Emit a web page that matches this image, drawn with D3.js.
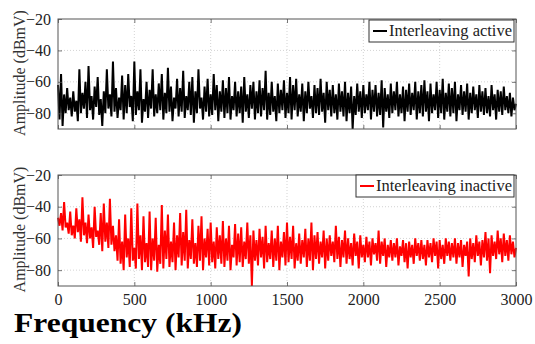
<!DOCTYPE html>
<html><head><meta charset="utf-8">
<script src="https://cdn.jsdelivr.net/npm/d3@7/dist/d3.min.js"></script>
<style>body{margin:0;background:#fff}svg{display:block}
svg text{font-family:"Liberation Serif","Times New Roman",serif;}</style>
</head><body>
<svg id="c" width="535" height="344"></svg>
<script>
const freqStep = 10; // kHz between samples
const xTicks = [0, 500, 1000, 1500, 2000, 2500, 3000];
const yTicks = [-20, -40, -60, -80];
const seriesNames = ["Interleaving active", "Interleaving inactive"];
const activeDb = [
-62,-84,-55,-88,-68,-80,-64,-78,-70,-82,
-66,-79,-72,-85,-52,-80,-67,-77,-60,-83,
-50,-78,-69,-84,-63,-76,-57,-81,-71,-88,
-66,-80,-52,-77,-68,-82,-47,-79,-64,-83,
-70,-78,-56,-84,-62,-80,-55,-76,-69,-85,
-47,-81,-66,-78,-52,-86,-71,-79,-60,-83,
-65,-77,-52,-82,-68,-80,-61,-78,-55,-84,
-67,-80,-51,-79,-63,-85,-70,-77,-58,-82,
-64,-79,-53,-83,-69,-78,-60,-81,-57,-86,
-66,-80,-52,-77,-70,-84,-63,-79,-58,-82,
-68,-81,-55,-78,-62,-85,-66,-79,-59,-83,
-64,-80,-57,-84,-69,-78,-60,-82,-66,-80,
-63,-86,-57,-79,-68,-83,-62,-77,-60,-84,
-66,-80,-59,-82,-64,-78,-53,-84,-67,-81,
-60,-79,-69,-85,-61,-80,-65,-78,-59,-83,
-67,-80,-57,-84,-62,-78,-58,-82,-68,-79,
-61,-85,-66,-80,-60,-77,-69,-83,-62,-80,
-64,-81,-58,-79,-67,-86,-60,-78,-65,-82,
-62,-80,-68,-84,-61,-79,-66,-82,-60,-85,
-67,-80,-63,-90,-69,-81,-61,-79,-66,-83,
-62,-80,-68,-78,-60,-84,-65,-79,-62,-82,
-67,-81,-59,-89,-64,-79,-68,-83,-61,-80,
-66,-78,-60,-82,-68,-80,-63,-85,-65,-79,
-61,-81,-67,-78,-60,-84,-66,-80,-62,-82,
-59,-79,-66,-85,-61,-80,-68,-78,-60,-83,
-65,-80,-58,-84,-67,-79,-61,-82,-64,-80,
-60,-85,-68,-78,-62,-81,-66,-79,-61,-84,
-67,-80,-63,-78,-68,-83,-62,-79,-66,-81,
-64,-80,-69,-82,-62,-78,-68,-84,-65,-79,
-66,-81,-63,-78,-69,-80,-67,-82,-70,-78,-74
];
const inactiveDb = [
-47,-52,-44,-55,-37,-53,-50,-57,-43,-58,
-52,-60,-41,-56,-48,-62,-34,-58,-50,-63,
-45,-60,-53,-66,-40,-59,-55,-64,-44,-68,
-38,-62,-50,-66,-35,-64,-52,-68,-58,-74,
-48,-76,-62,-80,-45,-72,-60,-78,-41,-74,
-66,-79,-38,-73,-58,-80,-46,-75,-63,-78,
-43,-80,-60,-74,-47,-81,-64,-76,-39,-79,
-55,-73,-45,-78,-62,-75,-50,-80,-58,-72,
-44,-77,-56,-74,-42,-79,-61,-73,-48,-76,
-63,-78,-52,-74,-46,-80,-60,-72,-54,-77,
-50,-75,-62,-79,-53,-73,-58,-76,-49,-78,
-60,-74,-52,-80,-64,-72,-51,-77,-57,-75,
-53,-78,-62,-73,-50,-76,-58,-90,-55,-74,
-61,-77,-54,-72,-59,-79,-52,-75,-63,-73,
-55,-78,-60,-74,-52,-80,-62,-72,-56,-77,
-50,-75,-59,-73,-52,-79,-63,-74,-57,-76,
-61,-72,-54,-78,-60,-74,-50,-80,-58,-73,
-56,-76,-62,-72,-55,-79,-60,-74,-58,-71,
-62,-75,-52,-73,-59,-78,-61,-72,-55,-76,
-60,-73,-63,-77,-57,-71,-62,-79,-58,-72,
-64,-75,-59,-72,-62,-77,-60,-70,-63,-74,
-55,-76,-62,-71,-60,-78,-64,-72,-61,-74,
-63,-72,-60,-77,-65,-71,-61,-75,-63,-79,
-62,-72,-64,-76,-60,-71,-63,-74,-61,-73,
-64,-77,-61,-72,-63,-75,-60,-71,-62,-79,
-61,-73,-64,-76,-60,-71,-62,-74,-63,-72,
-60,-76,-63,-72,-61,-78,-64,-71,-62,-84,
-60,-73,-63,-75,-58,-71,-62,-77,-61,-72,
-56,-74,-60,-82,-58,-71,-62,-73,-55,-70,
-60,-75,-57,-71,-61,-74,-58,-70,-62,-72,-66
];

const svg = d3.select("#c");
const font = "Liberation Serif";
const L = 58, R = 516;
const x = d3.scaleLinear().domain([0, 3000]).range([L, R]);

const panels = [
  {data: activeDb, color: "#000", name: seriesNames[0], top: 19, bottom: 129, labels: false,
   leg: {x0: 369, y0: 20, w: 145, h: 22}},
  {data: inactiveDb, color: "#ff0000", name: seriesNames[1], top: 175, bottom: 286, labels: true,
   leg: {x0: 356, y0: 175, w: 158, h: 22}}
];

panels.forEach(p => {
  const y = d3.scaleLinear().domain([-90, -20]).range([p.bottom, p.top]);
  const g = svg.append("g");
  // grid
  g.selectAll(".vg").data(xTicks.slice(1, -1)).join("line")
    .attr("x1", d => x(d)).attr("x2", d => x(d)).attr("y1", p.top).attr("y2", p.bottom)
    .attr("stroke", "#c8c8c8").attr("stroke-width", 0.8).attr("stroke-dasharray", "1,2");
  g.selectAll(".hg").data([-40, -60, -80]).join("line")
    .attr("x1", L).attr("x2", R).attr("y1", d => y(d)).attr("y2", d => y(d))
    .attr("stroke", "#c8c8c8").attr("stroke-width", 0.8).attr("stroke-dasharray", "1,2");
  // data line
  const line = d3.line().x((d, i) => x(i * freqStep)).y(d => y(d));
  g.append("path").datum(p.data).attr("d", line)
    .attr("fill", "none").attr("stroke", p.color).attr("stroke-width", 2)
    .attr("stroke-linejoin", "miter").attr("stroke-miterlimit", 3);
  // axes with inward ticks
  const axL = d3.axisLeft(y).tickValues(yTicks).tickSize(-4).tickPadding(7)
    .tickFormat(d => d < 0 ? "\u2212" + Math.abs(d) : d);
  const gl = g.append("g").attr("transform", `translate(${L},0)`).call(axL);
  const axR = d3.axisRight(y).tickValues(yTicks).tickSize(-4).tickFormat("");
  const gr = g.append("g").attr("transform", `translate(${R},0)`).call(axR);
  const axB = d3.axisBottom(x).tickValues(xTicks).tickSize(-4).tickPadding(8)
    .tickFormat(p.labels ? d3.format("d") : "");
  const gb = g.append("g").attr("transform", `translate(0,${p.bottom})`).call(axB);
  const axT = d3.axisTop(x).tickValues(xTicks).tickSize(-4).tickFormat("");
  const gt = g.append("g").attr("transform", `translate(0,${p.top})`).call(axT);
  [gl, gr, gb, gt].forEach(a => {
    a.attr("font-family", font);
    a.select(".domain").remove();
    a.selectAll(".tick line").attr("stroke", "#555").attr("stroke-width", 0.8);
    a.selectAll("text").attr("font-family", font).attr("font-size", 16).attr("fill", "#222");
  });
  // box
  g.append("rect").attr("x", L).attr("y", p.top).attr("width", R - L).attr("height", p.bottom - p.top)
    .attr("fill", "none").attr("stroke", "#555").attr("stroke-width", 1);
  // y label
  g.append("text").attr("transform", `translate(19,${(p.top + p.bottom) / 2 - 1}) rotate(-90)`)
    .attr("text-anchor", "middle").attr("dominant-baseline", "central")
    .attr("font-family", font).attr("font-size", 16).attr("fill", "#333")
    .text("Amplitude (dBmV)");
  // legend
  const lg = g.append("g");
  lg.append("rect").attr("x", p.leg.x0).attr("y", p.leg.y0).attr("width", p.leg.w).attr("height", p.leg.h)
    .attr("fill", "#fff").attr("stroke", "#333").attr("stroke-width", 1);
  lg.append("line").attr("x1", p.leg.x0 + 4).attr("x2", p.leg.x0 + 18)
    .attr("y1", p.leg.y0 + p.leg.h / 2).attr("y2", p.leg.y0 + p.leg.h / 2)
    .attr("stroke", p.color).attr("stroke-width", 2);
  lg.append("text").attr("x", p.leg.x0 + 20).attr("y", p.leg.y0 + p.leg.h / 2 + 5)
    .attr("font-family", font).attr("font-size", 16.5).attr("fill", "#222")
    .attr("textLength", p.leg.w - 22).attr("lengthAdjust", "spacingAndGlyphs")
    .text(p.name);
});

svg.append("text").attr("x", 14).attr("y", 332)
  .attr("font-family", font).attr("font-weight", "bold").attr("font-size", 28).attr("fill", "#000")
  .attr("textLength", 228).attr("lengthAdjust", "spacingAndGlyphs")
  .text("Frequency (kHz)");
</script>
</body></html>
